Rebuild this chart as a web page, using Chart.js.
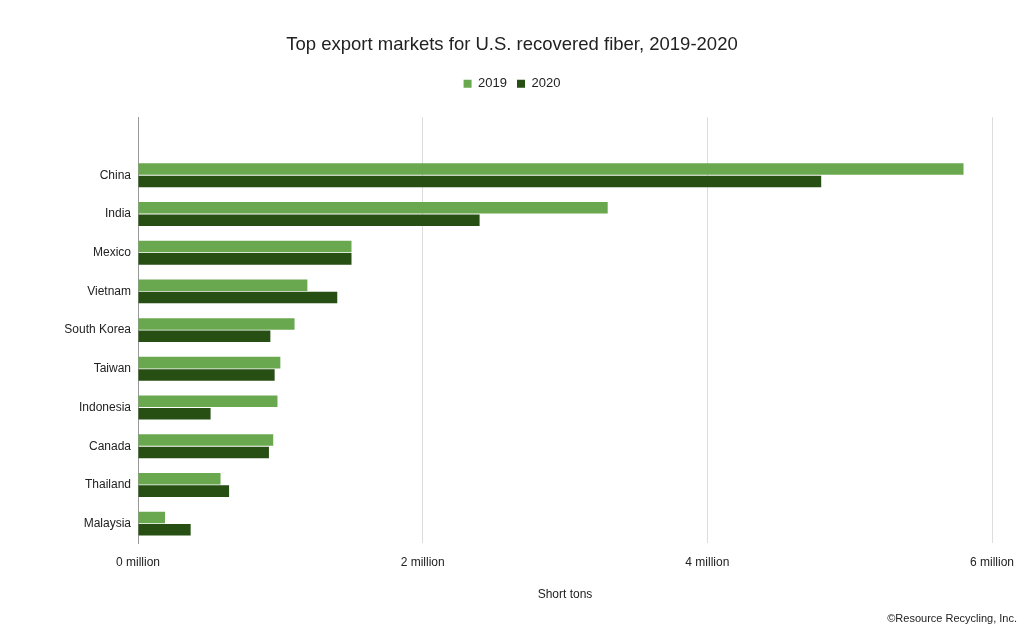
<!DOCTYPE html>
<html>
<head>
<meta charset="utf-8">
<script src="https://cdn.jsdelivr.net/npm/chart.js@4.4.1/dist/chart.umd.min.js"></script>
<style>
  html, body { margin: 0; padding: 0; background: #fff; }
  #wrap { width: 1024px; height: 633px; }
</style>
</head>
<body>
<div id="wrap"><canvas id="fiberChart" width="1024" height="633"></canvas></div>
<script>
// markets (first slot is left blank, as in the original)
const markets = ['', 'China', 'India', 'Mexico', 'Vietnam', 'South Korea', 'Taiwan', 'Indonesia', 'Canada', 'Thailand', 'Malaysia'];

// short tons
const tons2019 = [null, 5800000, 3300000, 1500000, 1190000, 1100000, 1000000, 980000, 950000, 580000, 190000];
const tons2020 = [null, 4800000, 2400000, 1500000, 1400000, 930000, 960000, 510000, 920000, 640000, 370000];

const xTicks = [0, 2000000, 4000000, 6000000];

const FONT = "'Liberation Sans', Arial, sans-serif";

// empty strip between the legend and the plot
const legendGap = {
    id: 'legendGap',
    beforeInit(chart) {
        Chart.layouts.addBox(chart, {
            position: 'top',
            weight: 500,
            fullSize: true,
            options: {},
            isHorizontal() { return true; },
            update(maxWidth) { this.width = maxWidth; this.height = 17; },
            draw() {}
        });
    }
};

const ctx = document.getElementById('fiberChart').getContext('2d');

const fiberChart = new Chart(ctx, {
    type: 'bar',
    data: {
        labels: markets,
        datasets: [
            { label: '2019', data: tons2019, backgroundColor: '#6aa84f', borderWidth: 0 },
            { label: '2020', data: tons2020, backgroundColor: '#274e13', borderWidth: 0 }
        ]
    },
    plugins: [legendGap],
    options: {
        indexAxis: 'y',
        responsive: false,
        animation: false,
        devicePixelRatio: 1,
        categoryPercentage: 0.64,
        barPercentage: 0.93,
        layout: { padding: { left: 7, right: 7, top: 0, bottom: 0 } },
        plugins: {
            title: {
                display: true,
                text: 'Top export markets for U.S. recovered fiber, 2019-2020',
                color: '#222',
                font: { family: FONT, size: 18.5, weight: 'normal' },
                padding: { top: 34, bottom: 11 }
            },
            subtitle: {
                display: true,
                position: 'bottom',
                align: 'end',
                text: '©Resource Recycling, Inc.',
                color: '#222',
                font: { family: FONT, size: 11 },
                padding: { top: 11, bottom: 7 }
            },
            legend: {
                position: 'top',
                labels: {
                    boxWidth: 8,
                    boxHeight: 8,
                    color: '#222',
                    font: { family: FONT, size: 13 },
                    padding: 10
                }
            },
            tooltip: { enabled: false }
        },
        scales: {
            x: {
                min: 0,
                max: 6000000,
                afterBuildTicks: (scale) => { scale.ticks = xTicks.map(v => ({ value: v })); },
                afterFit: (scale) => { scale.paddingRight = 32; },
                ticks: {
                    color: '#222',
                    font: { family: FONT, size: 12 },
                    padding: 12,
                    callback: (v) => (v / 1000000) + ' million'
                },
                grid: {
                    drawTicks: false,
                    color: (c) => c.tick && c.tick.value === 0 ? '#999' : '#dcdcdc'
                },
                border: { display: false },
                title: {
                    display: true,
                    text: 'Short tons',
                    color: '#222',
                    font: { family: FONT, size: 12 },
                    padding: { top: 6, bottom: 0 }
                }
            },
            y: {
                afterFit: (scale) => { scale.width = 131; },
                ticks: {
                    color: '#222',
                    font: { family: FONT, size: 12 },
                    padding: 7
                },
                grid: { display: false, drawTicks: false },
                border: { color: '#999' }
            }
        }
    }
});
</script>
</body>
</html>
